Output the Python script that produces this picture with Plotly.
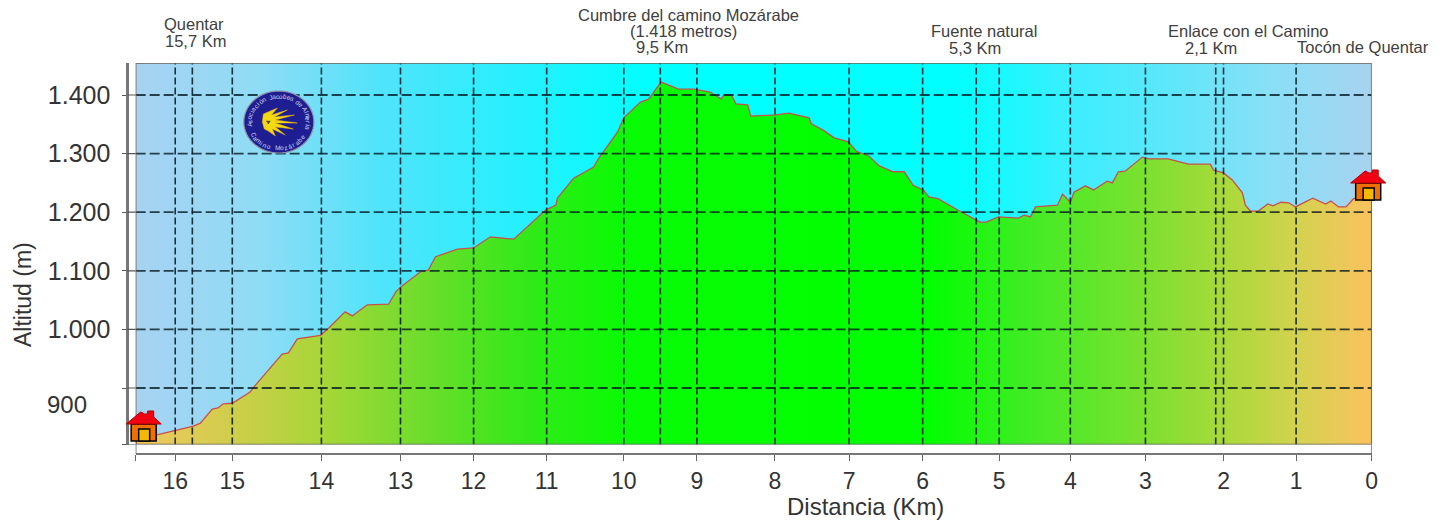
import math
import plotly.graph_objects as go

# Profile: distance to the finish (km) and altitude (m)
dist_km = [16.68,16.32,16,15.68,15.56,15.35,15.25,15.16,15,14.80,14.74,14.44,14.37,14.27,14.01,13.91,13.70,13.61,13.42,13.15,13.06,13,12.73,12.62,12.52,12.22,12,11.77,11.63,11.45,11.01,10.88,10.86,10.65,10.39,10.34,10.08,10,9.77,9.66,9.49,9.25,9.04,8.83,8.69,8.65,8.56,8.50,8.35,8.31,7.99,7.81,7.54,7.51,7.35,7.20,7.01,6.90,6.73,6.59,6.40,6.25,6.13,5.99,5.92,5.80,5.52,5.25,5.17,5.01,4.73,4.65,4.56,4.49,4.18,4.11,4,3.95,3.80,3.69,3.51,3.44,3.36,3.27,3.04,2.96,2.71,2.45,2.17,2.13,2,1.88,1.74,1.70,1.63,1.52,1.39,1.32,1.21,1.10,1.01,0.90,0.78,0.61,0.54,0.44,0.34,0.24,0]
altitude_m = [813,820,827,835,840,864,866,873,874,893,905,958,960,984,990,1002,1030,1023,1042,1043,1064,1072,1098,1101,1124,1137,1139,1158,1156,1154,1204,1212,1224,1258,1277,1289,1337,1361,1388,1393,1422,1410,1410,1405,1393,1400,1400,1385,1383,1364,1366,1369,1361,1351,1340,1327,1320,1304,1296,1279,1269,1269,1246,1238,1226,1223,1202,1183,1183,1192,1190,1195,1192,1209,1212,1231,1217,1234,1245,1238,1253,1250,1269,1270,1294,1291,1291,1282,1282,1272,1267,1255,1233,1212,1202,1202,1214,1211,1217,1216,1209,1216,1224,1214,1219,1209,1209,1223,1226]

# The source chart's distance axis is not uniform: km marks and their scale positions
tick_km = [0,1,2,3,4,5,6,7,8,9,10,11,12,13,14,15,16,16.69]
tick_scale = [0,75.5,148,226,301,372,448.5,522,596,674,747,824,897,970,1049,1138,1195,1234.5]
km_labels = ["0","1","2","3","4","5","6","7","8","9","10","11","12","13","14","15","16",""]
extra_km = [15.7,9.5,5.3,2.1]

alt_ticks = [803.6,900,1000,1100,1200,1300,1400]
alt_labels = ["","","1.000","1.100","1.200","1.300","1.400"]
grid_alt = [900,1000,1100,1200,1300,1400]
ALT_MIN, ALT_MAX = 803.6, 1454.6

W, H = 1454, 520
DRAW_W = 1446.2  # width the page actually gives the figure
def px(x): return x / DRAW_W
def py(y): return 1 - y / H

def km_to_scale(k):
    for i in range(len(tick_km) - 1):
        if tick_km[i] <= k <= tick_km[i + 1]:
            t = (k - tick_km[i]) / (tick_km[i + 1] - tick_km[i])
            return tick_scale[i] + t * (tick_scale[i + 1] - tick_scale[i])
    return tick_scale[-1]

X_MAX = tick_scale[-1]
xs = [km_to_scale(k) for k in dist_km]
fig = go.Figure()

# sky
fig.add_trace(go.Scatter(
    x=[X_MAX, 0, 0, X_MAX, X_MAX], y=[ALT_MIN, ALT_MIN, ALT_MAX, ALT_MAX, ALT_MIN],
    mode="lines", line=dict(width=0), fill="toself", hoverinfo="skip", showlegend=False,
    fillgradient=dict(type="horizontal", colorscale=[
        [0, "#a8d2f2"], [0.1, "#8fdcf5"], [0.2, "#4fe4fb"], [0.33, "#1ff2fe"], [0.42, "#00ffff"],
        [0.66, "#00ffff"], [0.76, "#3deefd"], [0.84, "#5fe6fa"], [0.92, "#8adff6"], [1, "#a8d2f0"]])))
# terrain
fig.add_trace(go.Scatter(
    x=[xs[0]] + xs + [xs[-1]], y=[ALT_MIN] + altitude_m + [ALT_MIN],
    mode="lines", line=dict(color="#c8504a", width=1.3), fill="toself", showlegend=False,
    fillgradient=dict(type="horizontal", colorscale=[
        [0, "#f0c860"], [0.06, "#d8cc50"], [0.15, "#a8d638"], [0.24, "#68de2a"], [0.32, "#30ea18"],
        [0.4, "#08fc04"], [0.64, "#00ff00"], [0.72, "#40ec24"], [0.82, "#7ee030"],
        [0.89, "#b0d83c"], [0.94, "#d4d250"], [1, "#fac25e"]])))

shapes = []
# Grid
for a in grid_alt:
    shapes.append(dict(type="line", layer="above", xref="x", yref="y", x0=X_MAX, x1=0, y0=a, y1=a,
                       line=dict(color="rgba(0,20,30,0.78)", width=1.8, dash="10px,4px")))
for k in tick_km[1:-1]:
    s = km_to_scale(k)
    shapes.append(dict(type="line", layer="above", xref="x", yref="y", x0=s, x1=s, y0=ALT_MIN, y1=ALT_MAX,
                       line=dict(color="rgba(0,20,30,0.85)", width=1.6, dash="7px,3px")))
for k in extra_km:
    s = km_to_scale(k)
    shapes.append(dict(type="line", layer="above", xref="x", yref="y", x0=s, x1=s, y0=ALT_MIN, y1=ALT_MAX + 4,
                       line=dict(color="rgba(0,20,30,0.85)", width=1.6, dash="7px,3px")))
# Frame
shapes.append(dict(type="rect", layer="above", xref="x", yref="y", x0=X_MAX, x1=0, y0=ALT_MIN, y1=ALT_MAX,
                   line=dict(color="#6b6355", width=1.5)))
# Short inner tick extensions
for a in alt_ticks:
    shapes.append(dict(type="line", layer="above", xref="paper", yref="y", x0=px(127), x1=px(135.5), y0=a, y1=a,
                       line=dict(color="#555555", width=1.2)))
for s in (0, X_MAX):
    shapes.append(dict(type="line", layer="above", xref="x", yref="paper", x0=s, x1=s, y0=py(444.5), y1=py(454),
                       line=dict(color="#666666", width=1.5)))

def poly(points, fill, line="#000000", lw=1.5):
    d = "M" + " L".join(f"{px(a):.5f},{py(b):.5f}" for a, b in points) + " Z"
    shapes.append(dict(type="path", layer="above", xref="paper", yref="paper", path=d,
                       fillcolor=fill, line=dict(color=line, width=lw)))

def house(c, b):
    poly([(c-12.5,b+17),(c+12.5,b+17),(c+12.5,b),(c-12.5,b)], "#ee7000")
    poly([(c-5,b+17),(c+6,b+17),(c+6,b+5),(c-5,b+5)], "#f4b800")
    poly([(c-17.5,b),(c-3,b-12),(c+1,b-10),(c+4,b-10),(c+4,b-13),(c+10,b-13),(c+10,b-7),(c+17.5,b)], "#f00010", "#b00000", 1)
house(143.5, 424)
house(1366.5, 183)

# Logo
LX, LY, RX, RY = 278.5, 122, 35, 31
logo = "M" + " L".join(
    f"{px(LX + RX*math.cos(t*math.pi/30)):.5f},{py(LY + RY*math.sin(t*math.pi/30)):.5f}" for t in range(60)) + " Z"
shapes.append(dict(type="path", layer="above", xref="paper", yref="paper", path=logo,
                   fillcolor="#1e1e92", line=dict(color="#8f93a8", width=1.2)))
shell = [(263,114),(277,108),(271,115),(287,110),(274,117),(294,115),(275,120),(297,123),(275,123),(293,129),
         (275,127),(285,135),(272,129),(275,136),(268,131),(264,129),(262,122)]
poly(shell, "#f5d90f", "#e8b810", 0.5)
poly([(266,121),(270,121),(268,124)], "#5a4a10", "#5a4a10", 0.5)

anns = []
def ann(text, x, y, size, color="#3a3a3a", **kw):
    anns.append(dict(text=text, xref="paper", yref="paper", x=px(x), y=py(y), showarrow=False,
                     xanchor="center", yanchor="middle", font=dict(size=size, color=color, family="Liberation Sans"), **kw))

def ring(text, start, stop, inward):
    # one rotated letter per step along the logo's rim
    n = len(text)
    for i, ch in enumerate(text):
        deg = start + (stop - start) * i / (n - 1)
        t = math.radians(deg)
        x = LX + (RX - 5.5) * math.cos(t)
        y = LY + (RY - 5) * math.sin(t)
        ann(ch, x, y, 6.5, "#c9cfe8", textangle=(deg + 90 if inward else deg - 90))

ring("Asociación Jacobea de Almería", 175, 375, True)
ring("Camino Mozárabe", 150, 35, False)

for text, x, y in [("Quentar",194,24),("15,7 Km",195,41),("Cumbre del camino Mozárabe",688,15),
                   ("(1.418 metros)",683,31),("9,5 Km",661,47),("Fuente natural",983,31),("5,3 Km",974,48),
                   ("Enlace con el Camino",1247,31),("2,1 Km",1209,48),("Tocón de Quentar",1361,47)]:
    ann(text, x, y, 16.5, "#404040")
ann("900", 67, 404, 24, "#333333")
ann("Distancia (Km)", 864, 506, 24, "#333333")
ann("Altitud (m)", 23, 295, 23, "#333333", textangle=-90)

fig.update_layout(
    width=W, height=H, margin=dict(l=0, r=0, t=0, b=0), paper_bgcolor="white", plot_bgcolor="white",
    shapes=shapes, annotations=anns, showlegend=False,
    font=dict(family="Liberation Sans", color="#333333"),
    xaxis=dict(domain=[px(135.5), px(1370)], range=[X_MAX, 0], anchor="free", position=py(454),
               tickmode="array", tickvals=tick_scale, ticktext=km_labels, ticks="outside", ticklen=6,
               tickcolor="#666666", tickwidth=1.3, showgrid=False, zeroline=False, showline=True,
               linecolor="#777777", linewidth=2, tickfont=dict(size=23, color="#333333")),
    yaxis=dict(domain=[py(444.5), py(63)], range=[ALT_MIN, ALT_MAX], anchor="free", position=px(127),
               tickmode="array", tickvals=alt_ticks, ticktext=alt_labels, ticks="outside", ticklen=4,
               tickcolor="#555555", tickwidth=1.2, showgrid=False, zeroline=False, showline=True,
               linecolor="#777777", linewidth=2.5, tickfont=dict(size=25, color="#333333"), ticklabelstandoff=7),
)
post = """document.documentElement.style.margin='0';document.body.style.margin='0';document.body.style.overflow='hidden';
var gd=document.querySelector('.plotly-graph-div');gd.style.width='1454px';gd.style.height='520px';
Plotly.relayout(gd,{width:1454,height:520});"""
fig.write_html("out.html", post_script=post, config={"displayModeBar": False})
